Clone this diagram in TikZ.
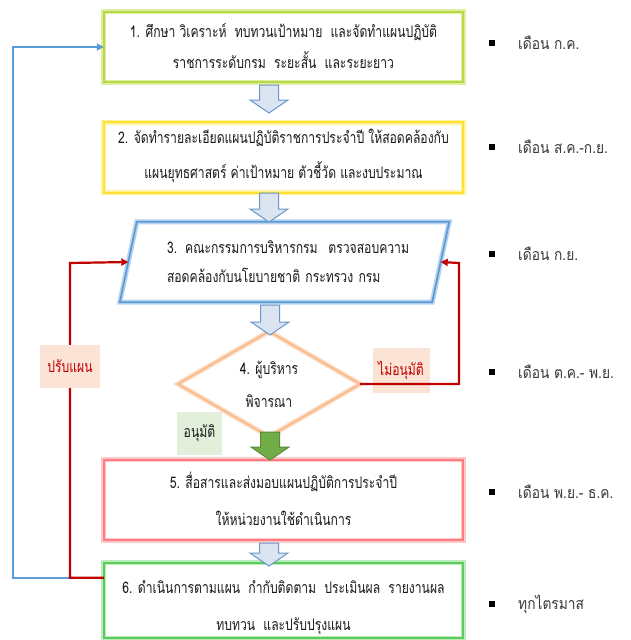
\documentclass[tikz,border=0pt]{standalone}
\usepackage{fontspec}
\newfontfamily\boxfont[Script=Thai, FakeStretch=0.76]{Loma}
\newfontfamily\sidefont[Script=Thai, FakeStretch=0.86]{Loma}
\usetikzlibrary{calc,arrows.meta,shapes.geometric}
\definecolor{txt}{HTML}{1A1A1A}
\definecolor{sidetxt}{HTML}{3A3A3A}
\definecolor{planred}{HTML}{C00000}
\definecolor{loopblue}{HTML}{5B9BD5}
\definecolor{peach}{HTML}{FBE3D6}
\definecolor{mint}{HTML}{E2EFDA}
\definecolor{arrfill}{HTML}{DAE5F1}
\definecolor{arrdraw}{HTML}{6A96CB}
\definecolor{okgreen}{HTML}{70AD47}
\definecolor{limeedge}{HTML}{B8D845}
\definecolor{limeglow}{HTML}{DDEEA0}
\definecolor{yelledge}{HTML}{FFE135}
\definecolor{yellglow}{HTML}{FFF3A0}
\definecolor{blueglow}{HTML}{B9D3EE}
\definecolor{orangeedge}{HTML}{F8B887}
\definecolor{orangeglow}{HTML}{FCDCC4}
\definecolor{pinkedge}{HTML}{FF7C80}
\definecolor{pinkglow}{HTML}{FFC8C8}
\definecolor{greenedge}{HTML}{5CCB5C}
\definecolor{greenglow}{HTML}{BCEBBC}
\tikzset{
  stepbox/.style={rectangle, minimum width=359pt, text=txt, inner sep=0pt},
  halo/.style={draw=#1, line width=5pt},
  rim/.style={draw=#1, line width=1.7pt},
  tag/.style={rectangle, inner sep=0pt, font=\boxfont\fontsize{16}{18}\selectfont},
  loopline/.style={line width=2.2pt, -{Triangle[length=7pt,width=7pt]}},
  sidenote/.style={anchor=west, text=sidetxt, inner sep=0pt, font=\sidefont\fontsize{16}{18}\selectfont},
  bullet/.style={fill=black, minimum size=6.5pt, inner sep=0pt, rectangle},
}
% two centred lines, a given baseline distance apart, drawn shifted up by a given amount
\newcommand\twolines[4]{\raisebox{#2}[\height][\depth]{\fontsize{16}{#1}\selectfont\begin{tabular}{@{}c@{}}#3\\#4\end{tabular}}}
% hollow block arrow: x centre, top y, tip y, style
\newcommand\blockdown[4]{%
  \draw[#4, line width=1pt, line join=miter]
    (#1-9.5,#2) -- (#1+9.5,#2) -- (#1+9.5,#3-13) -- (#1+19,#3-13)
    -- (#1,#3) -- (#1-19,#3-13) -- (#1-9.5,#3-13) -- cycle;}
\begin{document}
\begin{tikzpicture}[x=1pt,y=-1pt, font=\boxfont\fontsize{16}{18}\selectfont]
\useasboundingbox (0,0) rectangle (630,640);
\fill[white] (0,0) rectangle (630,640);

% ---- step boxes ----
\node[stepbox, minimum height=70pt] (b1) at (283.5,47)
  {\twolines{31pt}{0pt}{1. ศึกษา วิเคราะห์\ \ ทบทวนเป้าหมาย\ \ และจัดทำแผนปฏิบัติ}{ราชการระดับกรม\ \ ระยะสั้น\ \ และระยะยาว}};
\node[stepbox, minimum height=65pt] (b2) at (283.5,157.5)
  {\twolines{35pt}{4pt}{2. จัดทำรายละเอียดแผนปฏิบัติราชการประจำปี ให้สอดคล้องกับ}{แผนยุทธศาสตร์ ค่าเป้าหมาย ตัวชี้วัด และงบประมาณ}};
\node[rectangle, minimum width=329pt, minimum height=80pt, text width=235pt, align=left, inner sep=0pt, text=txt] (b3) at (284.5,262)
  {\mbox{3. คณะกรรมการบริหารกรม\ \ ตรวจสอบความ}\\[11pt]\mbox{สอดคล้องกับนโยบายชาติ กระทรวง กรม}};
\node[diamond, minimum width=182pt, minimum height=102pt, inner sep=0pt, align=center, text=txt] (b4) at (269,384)
  {4. ผู้บริหาร\\[15pt]พิจารณา};
\node[stepbox, minimum height=80pt] (b5) at (283.5,500)
  {\twolines{37pt}{0pt}{5. สื่อสารและส่งมอบแผนปฏิบัติการประจำปี}{ให้หน่วยงานใช้ดำเนินการ}};
\node[stepbox, minimum height=75pt] (b6) at (283.5,600.5)
  {\twolines{37pt}{-4.5pt}{6. ดำเนินการตามแผน\ \ กำกับติดตาม\ \ ประเมินผล\ \ รายงานผล}{ทบทวน\ \ และปรับปรุงแผน}};

% ---- borders with a soft halo ----
\draw[halo=limeglow] (b1.north west) rectangle (b1.south east);
\draw[rim=limeedge] (b1.north west) rectangle (b1.south east);
\draw[halo=yellglow] (b2.north west) rectangle (b2.south east);
\draw[rim=yelledge] (b2.north west) rectangle (b2.south east);
\draw[halo=blueglow] ($(b3.north west)+(17,0)$) -- (b3.north east) -- ($(b3.south east)+(-17,0)$) -- (b3.south west) -- cycle;
\draw[rim=loopblue] ($(b3.north west)+(17,0)$) -- (b3.north east) -- ($(b3.south east)+(-17,0)$) -- (b3.south west) -- cycle;
\draw[halo=orangeglow] (b4.north) -- (b4.east) -- (b4.south) -- (b4.west) -- cycle;
\draw[rim=orangeedge] (b4.north) -- (b4.east) -- (b4.south) -- (b4.west) -- cycle;
\draw[halo=pinkglow] (b5.north west) rectangle (b5.south east);
\draw[rim=pinkedge] (b5.north west) rectangle (b5.south east);
\draw[halo=greenglow] (b6.north west) rectangle (b6.south east);
\draw[rim=greenedge] (b6.north west) rectangle (b6.south east);

% ---- block arrows between steps ----
\blockdown{269}{85}{113}{fill=arrfill, draw=arrdraw}
\blockdown{269}{193}{222}{fill=arrfill, draw=arrdraw}
\blockdown{270}{305}{335}{fill=arrfill, draw=arrdraw}
\blockdown{270}{432}{460}{fill=okgreen, draw=okgreen!80!black}
\blockdown{269}{543}{566}{fill=arrfill, draw=arrdraw}

% ---- decision labels and loop-back lines ----
\node[tag, fill=peach, minimum width=57pt, minimum height=45pt, text=planred] (no) at (401,370) {ไม่อนุมัติ};
\node[tag, fill=mint, minimum width=45pt, minimum height=43pt, text=txt] (yes) at (199.5,433) {อนุมัติ};

\coordinate (b3r) at ($(b3.east)+(-8.5,0)$);
\coordinate (b3l) at ($(b3.west)+(8.5,0)$);
\coordinate (b6l) at ($(b6.north west)+(0,15)$);

\draw[loopline, loopblue] (b6l) -| (13,47) -- (b1.west);
\draw[loopline, planred] (b4.east) -| (459,263) -- (b3r);
\draw[loopline, planred] (b6l) -| (70,263) -- (b3l);
\node[tag, fill=peach, minimum width=60pt, minimum height=43pt, text=planred] (fix) at (70,366) {ปรับแผน};

% ---- schedule column ----
\foreach \y/\t [count=\i] in {43/เดือน ก.ค., 147/เดือน ส.ค.-ก.ย., 254/เดือน ก.ย., 372/เดือน ต.ค.- พ.ย., 492/เดือน พ.ย.- ธ.ค., 604/ทุกไตรมาส}{
  \node[bullet] (m\i) at (492,\y) {};
  \node[sidenote] (s\i) at (518,\y) {\t};
}
\end{tikzpicture}
\end{document}
